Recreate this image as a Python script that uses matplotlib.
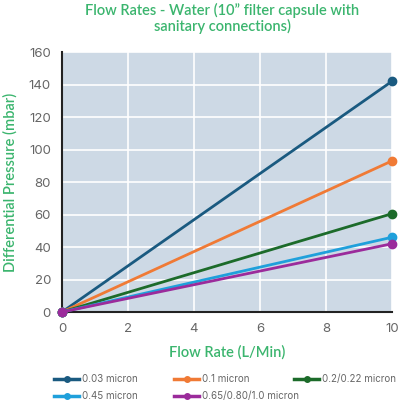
import matplotlib
matplotlib.use("Agg")
import matplotlib.pyplot as plt
from matplotlib.lines import Line2D

flow = [0, 10]
series_names = ["0.03 micron", "0.1 micron", "0.2/0.22 micron", "0.45 micron", "0.65/0.80/1.0 micron"]
p003 = [0, 142]
p01 = [0, 93]
p02 = [0, 60.5]
p045 = [0, 46]
p065 = [0, 42]
colors = ["#1a5a80", "#f07a35", "#1c6b2a", "#1fa0db", "#9b2b9b"]
xticks = [0, 2, 4, 6, 8, 10]
yticks = [0, 20, 40, 60, 80, 100, 120, 140, 160]

green = "#3bb56e"
grey = "#666666"
plt.rcParams['font.family'] = ['Lato', 'DejaVu Sans']

fig = plt.figure(figsize=(4.0, 4.07), dpi=100)
ax = fig.add_axes([0.155, 0.2334, 0.825, 0.6388])
ax.set_facecolor("#cdd9e5")
for vals, c in zip([p003, p01, p02, p045, p065], colors):
    ax.plot(flow, vals, color=c, lw=2, marker="o", ms=6, clip_on=False, zorder=3)

ax.set_xlim(0, 10)
ax.set_ylim(0, 160)
ax.set_xticks(xticks)
ax.set_yticks(yticks)
ax.grid(True, color="white", lw=1.2)
ax.set_axisbelow(True)
for s in ["top", "right"]:
    ax.spines[s].set_visible(False)
ax.spines["left"].set_color("#222222")
ax.spines["left"].set_linewidth(1.5)
ax.spines["bottom"].set_color("#222222")
ax.spines["bottom"].set_linewidth(1.5)
ax.tick_params(length=0, labelsize=9.5, labelcolor=grey, pad=8)
for lab in ax.get_xticklabels() + ax.get_yticklabels():
    lab.set_family(['Inter', 'DejaVu Sans'])
ax.set_xlabel("Flow Rate (L/Min)", color=green, fontsize=10.5, labelpad=7, fontweight="semibold")
ax.set_ylabel("Differential Pressure (mbar)", color=green, fontsize=10.5, labelpad=8, fontweight="semibold")
fig.text(0.555, 0.955, "Flow Rates - Water (10\u201d filter capsule with\nsanitary connections)",
         ha="center", va="center", color=green, fontsize=10.5, linespacing=1.05, fontweight="semibold")

columns = [[0, 3], [1, 4], [2]]
col_x = [0.135, 0.435, 0.735]
for idxs, x0 in zip(columns, col_x):
    handles = [Line2D([0], [0], color=colors[i], lw=2.5, marker="o", ms=4) for i in idxs]
    labels = [series_names[i] for i in idxs]
    leg = fig.legend(handles, labels, loc="upper left", bbox_to_anchor=(x0, 0.08), ncol=1,
                     frameon=False, labelcolor=grey, handlelength=2.6, handletextpad=0.25,
                     borderaxespad=0, borderpad=0, labelspacing=0.7,
                     prop={'family': ['Inter', 'DejaVu Sans'], 'size': 7})
fig.savefig("out.png", dpi=100)
